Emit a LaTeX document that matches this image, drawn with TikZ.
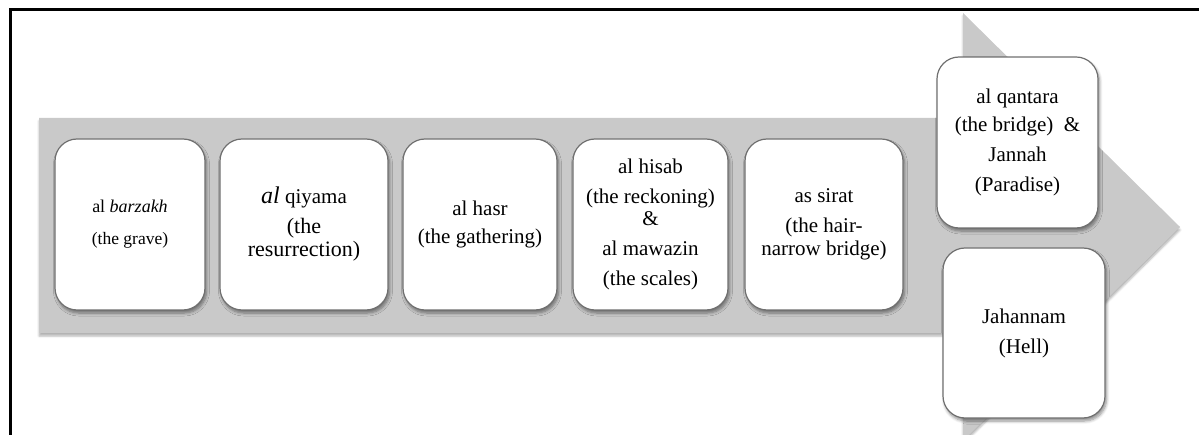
\documentclass[tikz,border=0pt]{standalone}
\usepackage{fontspec}
\setmainfont{Liberation Serif}
\usetikzlibrary{shadows.blur}
\definecolor{arrowgray}{RGB}{201,201,201}
\definecolor{boxedge}{RGB}{112,112,112}
\tikzset{
  stage/.style={draw=boxedge, line width=1.2pt, fill=white,
    rounded corners=22pt, minimum height=171pt, align=center,
    inner sep=0pt, font=\fontsize{21}{30}\selectfont,
    blur shadow={shadow xshift=1.5pt, shadow yshift=-3pt,
      shadow blur steps=6, shadow opacity=45, shadow blur radius=3pt}},
  flow/.style={fill=arrowgray,
    blur shadow={shadow xshift=0pt, shadow yshift=-3pt,
      shadow blur steps=5, shadow opacity=30, shadow blur radius=2pt}},
  frameline/.style={line width=3pt, black},
}
\begin{document}
\begin{tikzpicture}[x=1pt, y=-1pt]
\useasboundingbox (0,0) rectangle (1199,435);

% open frame: top and left edges
\draw[frameline] (10,437) -- (10,10) -- (1201,10);

% broad arrow behind the stages
\begin{scope}
  \clip (0,12) rectangle (1199,435);
  \path[flow] (39,118) -- (963,118) -- (963,13) -- (1180,227)
    -- (963,441) -- (963,333) -- (39,333) -- cycle;
\end{scope}

% the stages
\node[stage, minimum width=150pt] (barzakh) at (130,224.5)
  {{\fontsize{18}{30}\selectfont al \textit{barzakh}}\\[2pt]
   {\fontsize{17.5}{30}\selectfont (the grave)}};
\node[stage, minimum width=168pt] (qiyama) at (304,224.5)
  {{\fontsize{24}{30}\selectfont\itshape al} qiyama\\
   {\fontsize{22}{30}\selectfont (the}\\[-7pt]
   {\fontsize{22}{30}\selectfont resurrection)}};
\node[stage, minimum width=154pt] (hasr) at (480,224.5)
  {al hasr\\[-2pt] (the gathering)};
\node[stage, minimum width=155pt] (hisab) at (650.5,224.5)
  {al hisab\\ (the reckoning)\\[-8pt] \&\\ al mawazin\\ (the scales)};
\node[stage, minimum width=158pt] (sirat) at (824,224.5)
  {as sirat\\ (the hair-\\[-7pt] narrow bridge)};
\node[stage, minimum width=161pt] (jannah) at (1017.5,142.5)
  {al qantara\\[-2pt] (the bridge)~~\&\\ Jannah\\ (Paradise)};
\node[stage, minimum width=162pt, minimum height=170pt] (jahannam) at (1024,333)
  {Jahannam\\ (Hell)};
\end{tikzpicture}
\end{document}
